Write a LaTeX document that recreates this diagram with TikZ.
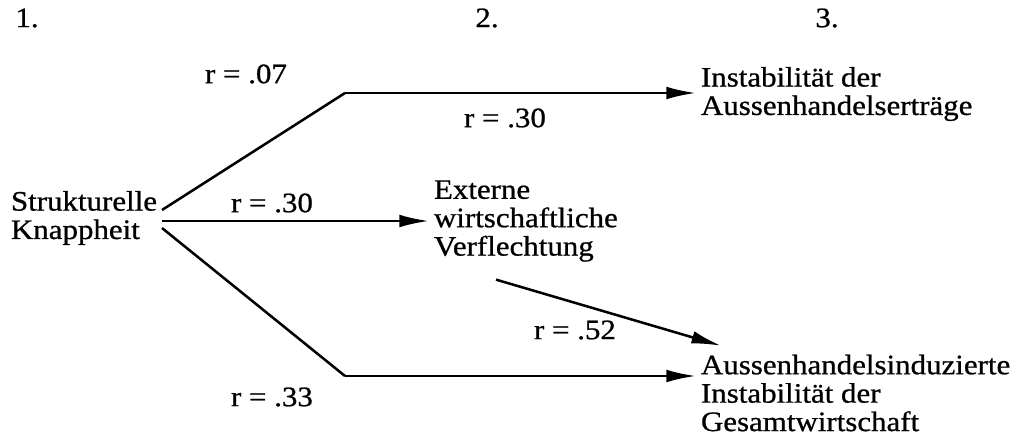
\documentclass[tikz,border=0pt]{standalone}
\usepackage{fontspec}
\setmainfont{Liberation Serif}[FakeStretch=1.1,FakeBold=0.8]
\usetikzlibrary{arrows.meta,calc}

\begin{document}
\begin{tikzpicture}[x=0.025cm,y=0.025cm,
  every node/.style={font=\fontsize{20}{20.2}\selectfont},
  txt/.style={anchor=west,align=left},
  pfeil/.style={line width=1.8pt,-{Latex[length=21pt,width=9pt]}},
  linie/.style={line width=1.8pt}]
\useasboundingbox (0,0) rectangle (1016,437);
% Spaltenkoepfe
\foreach \x/\n in {27/1,487/2,827/3}
\node (kopf\n) at (\x,419) {\n.};
% Variablen
\node[txt] (struk)  at (6,219)   {Strukturelle\\Knappheit};
\node[txt] (extern) at (429,216) {Externe\\wirtschaftliche\\Verflechtung};
\node[txt] (instab) at (696,343) {Instabilität der\\Aussenhandelserträge};
\node[txt] (aussen) at (696,44)  {Aussenhandelsinduzierte\\Instabilität der\\Gesamtwirtschaft};
\coordinate (knickO) at (345,344);
\coordinate (knickU) at (345,61);
% Pfade
\draw[linie] ($(struk.east)+(0,8)$) -- (knickO);
\draw[pfeil] (knickO) -- (knickO -| instab.west);
\draw[pfeil] (struk.east |- extern.west) -- (extern.west);
\draw[linie] ($(struk.east)+(0,-10)$) -- (knickU);
\draw[pfeil] (knickU) -- (knickU -| aussen.west);
\draw[pfeil] ($(extern.south west)+(67,-13)$) -- ($(aussen.north west)+(25,4)$);
% Koeffizienten
\node (r1) at (246,363) {r = .07};
\node (r2) at (505,319) {r = .30};
\node (r3) at (272,234) {r = .30};
\node (r4) at (575,107) {r = .52};
\node (r5) at (272,40)  {r = .33};
\end{tikzpicture}
\end{document}
